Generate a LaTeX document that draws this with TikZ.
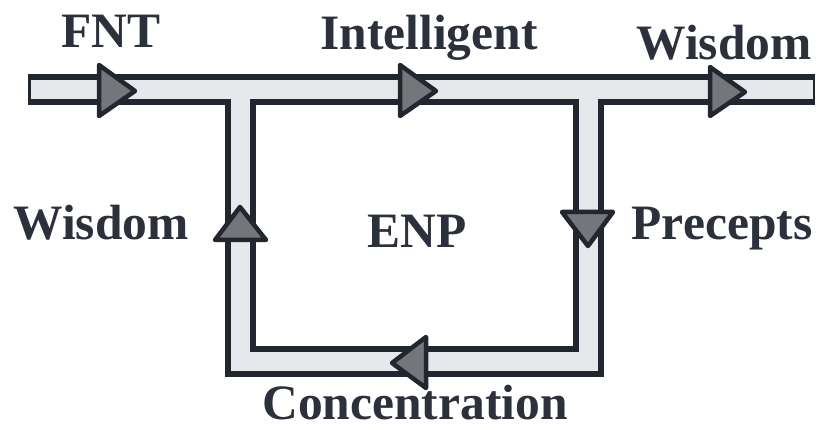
\documentclass[tikz,border=0pt]{standalone}
\usepackage{fontspec}
\setmainfont{Liberation Serif}
\definecolor{pipedark}{HTML}{22262E}
\definecolor{pipelight}{HTML}{E7E8EC}
\definecolor{tricol}{HTML}{757679}
\definecolor{txtcol}{HTML}{2B303B}
\begin{document}
\begin{tikzpicture}[x=1pt,y=-1pt,
  pipeout/.style={draw=pipedark,line width=31pt,line join=miter},
  pipein/.style={draw=pipelight,line width=19pt,line join=miter},
  tri/.style={fill=tricol,draw=pipedark,line width=4.5pt,line join=round},
  lbl/.style={anchor=base,inner sep=0pt,text=txtcol,font=\fontsize{49.5}{55}\selectfont\bfseries}]
\useasboundingbox (0,0) rectangle (820,430);
% pipe coordinates
\coordinate (tl) at (28,90);
\coordinate (tr) at (815,90);
\coordinate (tli) at (30.5,90);
\coordinate (tri) at (812.5,90);
\coordinate (lj) at (240,90);
\coordinate (lb) at (240,362);
\coordinate (rb) at (588,362);
\coordinate (rj) at (588,90);
% dark outlines
\draw[pipeout] (lj) -- (lb) -- (rb) -- (rj);
\draw[pipeout] (tl) -- (tr);
% light interiors
\draw[pipein] (lj) -- (lb) -- (rb) -- (rj);
\draw[pipein] (tli) -- (tri);
% arrowheads
\draw[tri] (99,65) -- (135,91) -- (99,116) -- cycle;
\draw[tri] (400,65) -- (436,91) -- (400,116) -- cycle;
\draw[tri] (710,67) -- (745,92) -- (710,116) -- cycle;
\draw[tri] (215,240) -- (240,207) -- (266,240) -- cycle;
\draw[tri] (562,212) -- (588,246) -- (613,212) -- cycle;
\draw[tri] (426,337) -- (392,363) -- (426,388) -- cycle;
% labels
\node[lbl] (fnt) at (111,48) {FNT};
\node[lbl] (intel) at (429,50) {Intelligent};
\node[lbl] (wis1) at (724,60) {Wisdom};
\node[lbl] (wis2) at (101,240) {Wisdom};
\node[lbl] (enp) at (417,248) {ENP};
\node[lbl] (prec) at (722,240) {Precepts};
\node[lbl] (conc) at (415,420) {Concentration};
\end{tikzpicture}
\end{document}
